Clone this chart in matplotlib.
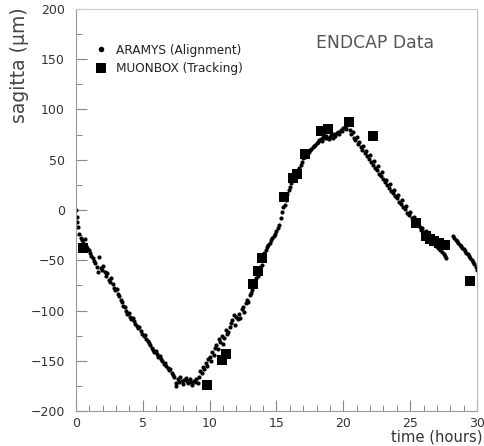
import matplotlib
matplotlib.use("Agg")
import matplotlib.pyplot as plt
from matplotlib.ticker import MultipleLocator

# ARAMYS (Alignment) dots, by segment
t1 = [0.00,0.05,0.10,0.15,0.25,0.35,0.45,0.55,0.65,0.75,0.85,0.95,1.05,1.15,1.25,1.35,1.45,1.55,1.65,1.75,
      1.85,1.95,2.05,2.15,2.25,2.35,2.45,2.55,2.65,2.75,2.85,2.95,3.05,3.15,3.25,3.35,3.45,3.55,3.65,3.75,
      3.85,3.95,4.05,4.15,4.25,4.35,4.45,4.55,4.65,4.75,4.85,4.95,5.05,5.15,5.25,5.35,5.45,5.55,5.65,5.75,
      5.85,5.95,6.05,6.15,6.25,6.35,6.45,6.55,6.65,6.75,6.85,6.95,7.05,7.15,7.25,7.35,7.45]
y1 = [0,-7,-12,-17,-24,-28,-30,-33,-29,-36,-38,-40,-43,-46,-48,-51,-53,-57,-62,-47,
      -58,-60,-56,-62,-66,-63,-70,-72,-68,-74,-78,-80,-79,-84,-86,-90,-92,-96,-97,-100,
      -103,-102,-106,-108,-107,-110,-113,-115,-117,-116,-120,-123,-125,-124,-128,-130,-132,-134,-137,-139,
      -141,-140,-143,-146,-145,-148,-150,-153,-152,-155,-157,-159,-158,-162,-164,-166,-172]

t2 = [7.5,7.6,7.7,7.8,7.9,8.0,8.1,8.2,8.3,8.4,8.5,8.6,8.7,8.8,8.9,9.0,9.1,9.2,9.3,9.4,9.5]
y2 = [-175,-168,-171,-166,-170,-173,-169,-167,-170,-172,-168,-171,-174,-170,-171,-168,-172,-166,-160,-162,-156]

t3 = [9.6,9.7,9.8,9.9,10.0,10.1,10.2,10.3,10.4,10.5,10.6,10.7,10.8,10.9,11.0,11.1,11.2,11.3,11.4,11.5,
      11.6,11.7,11.8,11.9,12.0,12.1,12.2,12.3,12.4,12.5,12.6,12.7,12.8,12.9,13.0,13.1,13.2,13.4,13.5,13.6,
      13.8,13.9,14.0,14.1,14.2,14.3,14.4,14.5,14.6,14.7,14.8,14.9,15.0,15.1,15.2]
y3 = [-158,-152,-155,-148,-146,-150,-141,-144,-137,-134,-138,-128,-131,-125,-133,-127,-119,-123,-121,-116,
      -112,-109,-104,-114,-106,-108,-103,-107,-99,-97,-101,-93,-90,-92,-85,-83,-80,-72,-68,-66,
      -57,-55,-50,-43,-40,-37,-35,-33,-30,-28,-26,-24,-21,-18,-15]

t4 = [15.3,15.4,15.5,15.6,15.7,15.8,15.9,16.0,16.1,16.2,16.3,16.4,16.5,16.6,16.7,16.8,16.9,17.0,17.1,17.2,
      17.3,17.4,17.5,17.6,17.7,17.8,17.9,18.0,18.1,18.2,18.3,18.4,18.5,18.6,18.7,18.8,18.9,19.0,19.1,19.2,
      19.3,19.4,19.5,19.6,19.7,19.8,19.9,20.0,20.1,20.2,20.3,20.4]
y4 = [-8,-2,3,5,10,16,20,23,27,30,33,36,38,40,42,45,48,52,53,55,
      56,58,60,61,63,64,65,67,68,70,71,69,73,72,74,72,71,73,75,72,
      76,74,77,78,76,80,79,82,83,81,85,86]

t5 = [20.5,20.6,20.7,20.8,20.9,21.0,21.1,21.2,21.3,21.4,21.5,21.6,21.7,21.8,21.9,22.0,22.1,22.2,22.3,22.4,
      22.5,22.6,22.7,22.8,22.9,23.0,23.1,23.2,23.3,23.4,23.5,23.6,23.7,23.8,23.9,24.0,24.1,24.2,24.3,24.4,
      24.5,24.6,24.7,24.8,24.9,25.0,25.1,25.2,25.3,25.4,25.5,25.6,25.7,25.8,25.9,26.0,26.1,26.2,26.3,26.4,
      26.5,26.6,26.7,26.8,26.9,27.0,27.1,27.2,27.3,27.4,27.5,27.6,27.7]
y5 = [80,76,78,72,70,73,66,68,63,60,64,57,59,54,51,55,48,45,49,42,
      40,44,36,34,38,31,28,30,25,22,26,19,17,20,14,12,15,8,6,10,
      3,1,4,-3,-5,-2,-8,-10,-7,-13,-15,-12,-17,-20,-18,-22,-24,-21,-27,-29,
      -26,-32,-30,-34,-36,-33,-38,-40,-37,-42,-44,-46,-48]

t6 = [28.2,28.3,28.4,28.5,28.6,28.7,28.8,28.9,29.0,29.1,29.2,29.3,29.4,29.5,29.6,29.7,29.8,29.9,30.0]
y6 = [-26,-28,-30,-31,-33,-35,-36,-38,-39,-41,-43,-44,-46,-48,-50,-52,-54,-57,-60]

# MUONBOX (Tracking) squares
sq_t = [0.55,9.8,10.95,11.25,13.25,13.65,13.95,15.55,16.2,16.55,17.1,18.35,18.85,20.45,22.2,
        25.4,26.15,26.5,26.8,27.15,27.6,29.5]
sq_y = [-38,-174,-149,-143,-74,-61,-48,13,32,36,56,79,81,88,74,
        -13,-26,-29,-31,-33,-35,-71]

x_ticks = [0, 5, 10, 15, 20, 25, 30]
y_ticks = [-200, -150, -100, -50, 0, 50, 100, 150, 200]

dot_t = t1 + t2 + t3 + t4 + t5 + t6
dot_y = y1 + y2 + y3 + y4 + y5 + y6

plt.rcParams['font.family'] = ['DejaVu Sans']
fig = plt.figure(figsize=(4.85, 4.46), dpi=100)
ax = fig.add_axes([76/485, 35/446, 401/485, 402/446])

dots, = ax.plot(dot_t, dot_y, 'o', color='black', markersize=3.0, markeredgewidth=0,
                label='ARAMYS (Alignment)')
sqs, = ax.plot(sq_t, sq_y, 's', color='black', markersize=7.5, markeredgewidth=0,
               label='MUONBOX (Tracking)')

ax.set_xlim(0, 30)
ax.set_ylim(-200, 200)
ax.set_xticks(x_ticks)
ax.set_yticks(y_ticks)
ax.xaxis.set_minor_locator(MultipleLocator(1))
ax.yaxis.set_minor_locator(MultipleLocator(25))
ax.tick_params(which='both', direction='in', color='#888888', labelcolor='#333333', labelsize=9)
ax.tick_params(which='major', length=8, width=0.8)
ax.tick_params(which='minor', length=4, width=0.7)
ax.tick_params(axis='x', pad=4)
ax.tick_params(axis='y', pad=8)
for s in ax.spines.values():
    s.set_color('#999999')
    s.set_linewidth(0.8)
ax.spines['top'].set_color('#cccccc')
ax.spines['right'].set_color('#bbbbbb')

ax.set_ylabel('sagitta (μm)', fontsize=13.5, color='#444444', loc='top')
ax.yaxis.set_label_coords(-0.118, 1.003)
ax.set_xlabel('time (hours)', fontsize=10.6, color='#333333', loc='right')
ax.xaxis.set_label_coords(1.013, -0.045)

ax.text(0.745, 0.915, 'ENDCAP Data', transform=ax.transAxes, ha='center', va='center',
        fontsize=12.4, color='#555555')

leg = ax.legend(handles=[dots, sqs], loc='upper left', bbox_to_anchor=(0.047, 0.914),
                frameon=False, fontsize=8.7, handlelength=1.0, handletextpad=0.75,
                labelspacing=0.45, borderpad=0, borderaxespad=0, markerscale=1.0)
leg.legend_handles[0].set_markersize(4)
leg.legend_handles[1].set_markersize(7.5)
for txt in leg.get_texts():
    txt.set_color('#222222')

fig.savefig('out.png', dpi=100)
